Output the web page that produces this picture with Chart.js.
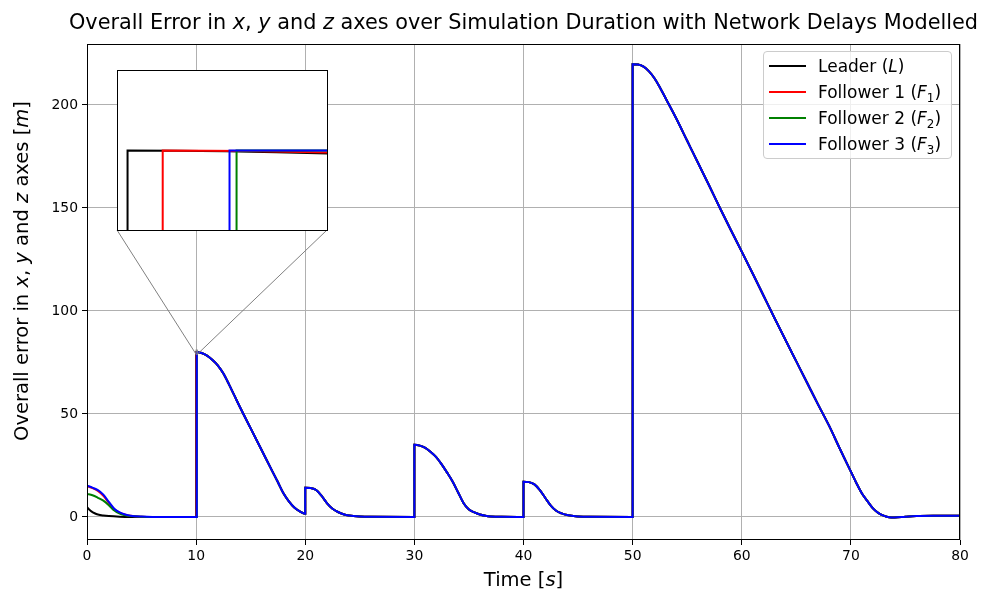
<!DOCTYPE html>
<html>
<head>
<meta charset="utf-8">
<script src="https://cdn.jsdelivr.net/npm/chart.js@4.4.1/dist/chart.umd.min.js"></script>
<style>
    body { margin: 0; background: #fff; font-family: "DejaVu Sans", sans-serif; color: #000; }
    #wrap { position: relative; width: 987px; height: 590px; }
    #titulo { position: absolute; left: 47px; width: 953px; top: 10px; line-height: 24px; font-size: 20.8px; text-align: center; white-space: nowrap; }
    #rotuloX { position: absolute; left: 87px; width: 873px; top: 569px; line-height: 22px; font-size: 19.5px; text-align: center; }
    #rotuloY { position: absolute; left: -226px; width: 496px; top: 260px; line-height: 22px; font-size: 19.5px; text-align: center; transform: rotate(-90deg); white-space: nowrap; }
    #legenda { position: absolute; left: 763px; top: 51px; width: 187px; height: 106px; border: 1px solid #cccccc; border-radius: 4px; background: rgba(255,255,255,0.8); font-size: 17px; }
    .item { position: absolute; left: 0; height: 20px; line-height: 20px; white-space: nowrap; }
    .item span.linha { position: absolute; left: 5px; top: 9px; width: 37px; height: 2px; }
    .item span.texto { position: absolute; left: 54px; top: 0; }
    sub { font-size: 70%; line-height: 0; }
    #inset { position: absolute; left: 117px; top: 70px; background: #fff; }
</style>
</head>
<body>
<div id="wrap">
    <canvas id="grafico" width="987" height="590"></canvas>
    <canvas id="inset" width="211" height="161"></canvas>
    <div id="titulo">Overall Error in <i>x</i>, <i>y</i> and <i>z</i> axes over Simulation Duration with Network Delays Modelled</div>
    <div id="rotuloY">Overall error in <i>x</i>, <i>y</i> and <i>z</i> axes [<i>m</i>]</div>
    <div id="rotuloX">Time [<i>s</i>]</div>
    <div id="legenda"></div>
</div>
<script>
// Dados (tempo em s, erro em m)
const seriesNames = ["Leader (<i>L</i>)", "Follower 1 (<i>F</i><sub>1</sub>)", "Follower 2 (<i>F</i><sub>2</sub>)", "Follower 3 (<i>F</i><sub>3</sub>)"];
const seriesColors = ["#000000", "#ff0000", "#008000", "#0000ff"];

// trecho inicial de cada série (até o primeiro degrau, com o atraso de rede)
const leaderTime  = [0, 0.2, 0.4, 0.7, 1, 1.5, 2, 3, 4, 9.9999, 10.0, 10.12];
const leaderError = [4.8, 3.6, 2.7, 1.8, 1.2, 0.7, 0.4, 0.1, 0, 0, 80, 79.96];
const f1Time  = [0, 0.5, 1, 1.5, 2, 2.5, 3, 3.5, 4, 5, 6, 10.0199, 10.02, 10.12];
const f1Error = [15, 14, 12.6, 10.2, 6.8, 3.7, 2, 1.1, 0.55, 0.12, 0, 0, 80, 79.97];
const f2Time  = [0, 0.5, 1, 1.5, 2, 2.5, 3, 3.5, 4, 5, 6, 10.0619, 10.062, 10.12];
const f2Error = [11.2, 10.5, 9.3, 7.9, 5.7, 3.1, 1.6, 0.8, 0.4, 0.1, 0, 0, 80, 80];
const f3Time  = [0, 0.5, 1, 1.5, 2, 2.5, 3, 3.5, 4, 5, 6, 10.0579, 10.058, 10.12];
const f3Error = [15.2, 14.2, 13, 10.8, 7.3, 4, 2.2, 1.2, 0.6, 0.15, 0, 0, 80, 80];

// resto da simulação (as quatro curvas praticamente coincidem)
const tailTime = [10.5, 11, 11.5, 12, 12.5, 13, 13.5, 14, 15, 16, 17, 17.5, 18, 18.5, 19, 19.5, 19.9999,
    20, 20.5, 21, 21.5, 22, 22.5, 23, 23.5, 24, 25, 26, 29.9999,
    30, 30.5, 31, 31.5, 32, 32.5, 33, 33.5, 34, 34.5, 35, 35.5, 36, 36.5, 37, 38, 39.9999,
    40, 40.5, 41, 41.5, 42, 42.5, 43, 43.5, 44, 45, 46, 49.9999,
    50, 50.5, 51, 51.5, 52, 52.5, 53, 53.5, 54, 55, 56, 57, 58, 59, 60, 61, 62, 63, 64, 65, 66, 67, 68, 69, 70,
    70.5, 71, 71.5, 72, 72.5, 73, 73.5, 74, 75, 76, 78, 80];
const tailError = [79.6, 78.3, 76.2, 73.5, 69.6, 64.5, 59, 53.5, 43, 32.5, 22, 16.8, 11.5, 7.6, 4.6, 2.7, 1.6,
    14.2, 14, 13.1, 10.2, 6.6, 4, 2.4, 1.3, 0.7, 0.2, 0.05, 0,
    35, 34.6, 33.5, 31.5, 29, 25.5, 21.5, 17.2, 12, 6.8, 3.6, 2.2, 1.2, 0.6, 0.25, 0.05, 0,
    17.1, 16.9, 15.8, 13, 9.2, 5.5, 3, 1.7, 0.9, 0.25, 0.05, 0,
    219.8, 219.6, 218.6, 216.3, 213, 208.5, 203.5, 198.5, 193.4, 182.6, 171.8, 161, 150, 139.3, 128.8, 118.2, 107.4, 96.6, 86, 75.5, 65, 54.5, 44.3, 33, 22,
    16.5, 11.5, 7.8, 4.3, 2, 0.6, -0.2, -0.3, 0.1, 0.4, 0.55, 0.6];

const xTicks = [0, 10, 20, 30, 40, 50, 60, 70, 80];
const yTicks = [0, 50, 100, 150, 200];
const xLimits = [0, 80];
const yLimits = [-11.2, 229.6];
// região ampliada no detalhe
const insetX = [9.994, 10.114];
const insetY = [79, 81];

const heads = [[leaderTime, leaderError], [f1Time, f1Error], [f2Time, f2Error], [f3Time, f3Error]];

function montarPontos(t, e) {
    const pts = t.map((v, i) => ({ x: v, y: e[i] }));
    return pts.concat(tailTime.map((v, i) => ({ x: v, y: tailError[i] })));
}

function montarDatasets() {
    return heads.map((h, i) => ({
        label: seriesNames[i],
        data: montarPontos(h[0], h[1]),
        borderColor: seriesColors[i],
        borderWidth: 2,
        pointRadius: 0,
        cubicInterpolationMode: "monotone",
        fill: false,
        order: heads.length - 1 - i // o último (azul) fica por cima
    }));
}

// legenda em HTML (dentro da área do gráfico)
const legenda = document.getElementById("legenda");
seriesNames.forEach((nome, i) => {
    const item = document.createElement("div");
    item.className = "item";
    item.style.top = (4 + i * 26) + "px";
    item.style.width = "100%";
    item.innerHTML = '<span class="linha" style="background:' + seriesColors[i] + '"></span><span class="texto">' + nome + '</span>';
    legenda.appendChild(item);
});

// moldura preta em volta da área de plotagem
const moldura = {
    id: "moldura",
    afterDraw(chart) {
        const { ctx, chartArea: a } = chart;
        ctx.save();
        ctx.strokeStyle = "#000";
        ctx.lineWidth = 1;
        ctx.strokeRect(Math.round(a.left) + 0.5, Math.round(a.top) + 0.5, Math.round(a.right - a.left) - 1, Math.round(a.bottom - a.top) - 1);
        ctx.restore();
    }
};

// linhas cinzas ligando o detalhe à região ampliada
const conectores = {
    id: "conectores",
    afterDraw(chart) {
        const { ctx, scales: { x, y } } = chart;
        const box = document.getElementById("inset");
        const left = box.offsetLeft, right = box.offsetLeft + box.offsetWidth - 1;
        const bottom = box.offsetTop + box.offsetHeight - 1;
        const x0 = x.getPixelForValue(insetX[0]), x1 = x.getPixelForValue(insetX[1]);
        const y0 = y.getPixelForValue(insetY[0]), y1 = y.getPixelForValue(insetY[1]);
        ctx.save();
        ctx.strokeStyle = "#808080";
        ctx.lineWidth = 1;
        ctx.strokeRect(x0, y1, x1 - x0, y0 - y1);
        ctx.beginPath();
        ctx.moveTo(left, bottom);
        ctx.lineTo(x0, y0);
        ctx.moveTo(right, bottom);
        ctx.lineTo(x1, y0);
        ctx.stroke();
        ctx.restore();
    }
};

const fonteTicks = { family: "DejaVu Sans", size: 13.9 };

new Chart(document.getElementById("grafico").getContext("2d"), {
    type: "line",
    data: { datasets: montarDatasets() },
    options: {
        responsive: false,
        animation: false,
        layout: { padding: { left: 0, top: 44, right: 27, bottom: 0 } },
        plugins: { legend: { display: false }, tooltip: { enabled: false } },
        scales: {
            x: {
                type: "linear",
                min: xLimits[0],
                max: xLimits[1],
                afterFit: s => { s.height = 50; },
                afterBuildTicks: s => { s.ticks = xTicks.map(v => ({ value: v })); },
                ticks: { color: "#000", font: fonteTicks, padding: 3, maxRotation: 0 },
                grid: { color: "#b0b0b0", lineWidth: 1, tickColor: "#000", tickLength: 5 },
                border: { display: false }
            },
            y: {
                type: "linear",
                min: yLimits[0],
                max: yLimits[1],
                afterFit: s => { s.width = 87; },
                afterBuildTicks: s => { s.ticks = yTicks.map(v => ({ value: v })); },
                ticks: { color: "#000", font: fonteTicks, padding: 4 },
                grid: { color: "#b0b0b0", lineWidth: 1, tickColor: "#000", tickLength: 5 },
                border: { display: false }
            }
        }
    },
    plugins: [moldura, conectores]
});

// gráfico do detalhe (zoom no primeiro degrau)
new Chart(document.getElementById("inset").getContext("2d"), {
    type: "line",
    data: { datasets: montarDatasets() },
    options: {
        responsive: false,
        animation: false,
        layout: { padding: 0 },
        plugins: { legend: { display: false }, tooltip: { enabled: false } },
        scales: {
            x: { type: "linear", display: false, min: insetX[0], max: insetX[1] },
            y: { type: "linear", display: false, min: insetY[0], max: insetY[1] }
        }
    },
    plugins: [moldura]
});
</script>
</body>
</html>
